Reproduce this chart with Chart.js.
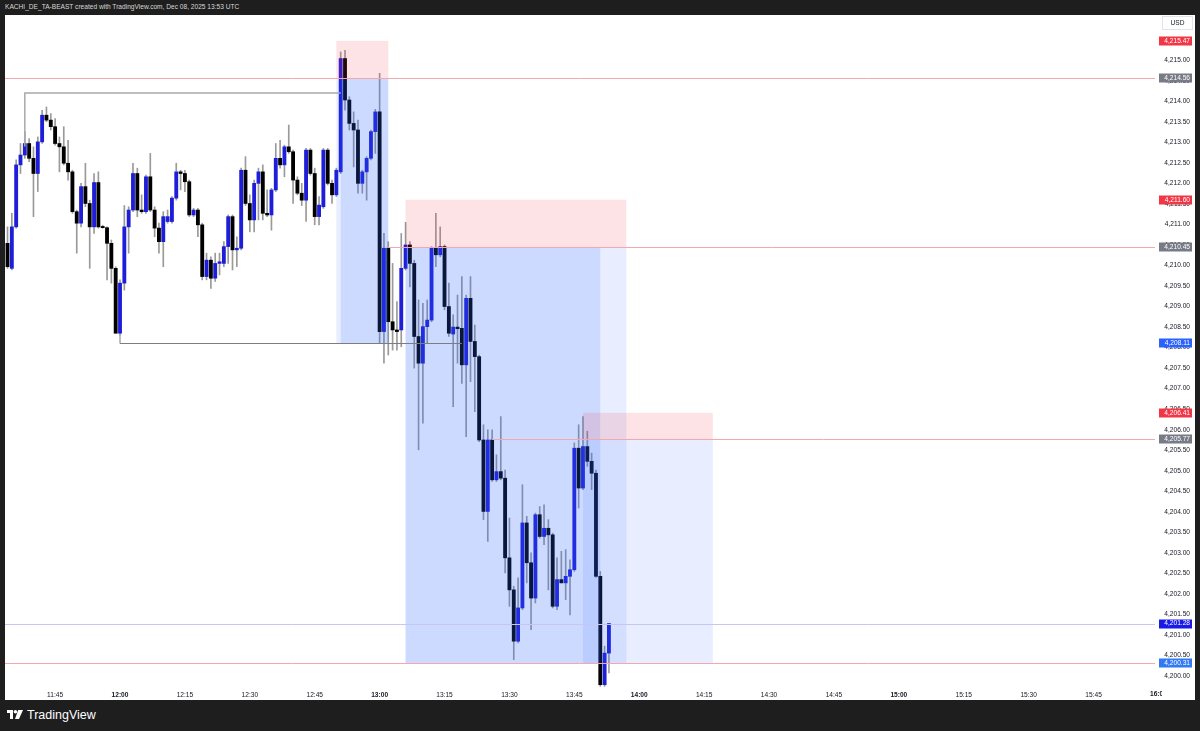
<!DOCTYPE html>
<html>
<head>
<meta charset="utf-8">
<script src="https://cdn.jsdelivr.net/npm/chart.js@4.4.1/dist/chart.umd.min.js"></script>
<style>
  html, body { margin: 0; padding: 0; width: 1200px; height: 731px; overflow: hidden; background: #1e1e1e; font-family: "Liberation Sans", Arial, sans-serif; }
  #head { position: absolute; left: 5px; top: 3px; font-size: 6.6px; color: #d8d8d8; white-space: nowrap; }
  #panel { position: absolute; left: 5px; top: 15px; width: 1190px; height: 685px; background: #fff; }
  #foot { position: absolute; left: 7px; top: 708px; display: flex; align-items: center; color: #fff; font-size: 12.5px; font-weight: 500; }
  #foot svg { margin-right: 4px; }
</style>
</head>
<body>
<div id="head">KACHI_DE_TA-BEAST created with TradingView.com, Dec 08, 2025 13:53 UTC</div>
<div id="panel"><canvas id="chart" width="1190" height="685"></canvas></div>
<div id="foot">
  <svg width="16" height="10" viewBox="0 0 16 10"><path d="M0 0h6v9H3V3H0z" fill="#fff"/><circle cx="8.4" cy="1.8" r="1.8" fill="#fff"/><path d="M11.2 0H16l-4 9H8z" fill="#fff"/></svg>
  <span>TradingView</span>
</div>
<script>
// 1-minute candles, first bar at 11:34 (minutes since midnight)
const firstBar = 694;

const opens = [
  4210.54, 4209.93, 4210.94, 4212.45, 4212.69, 4212.97, 4212.61, 4212.24, 4213.01, 4213.66,
  4213.54, 4213.38, 4212.97, 4212.89, 4212.49, 4212.28, 4211.31, 4211.03, 4211.92, 4211.51,
  4210.94, 4212.02, 4210.95, 4210.92, 4210.54, 4209.93, 4208.35, 4209.57, 4210.94, 4211.35,
  4212.24, 4211.35, 4211.31, 4212.16, 4211.35, 4210.91, 4210.58, 4211.07, 4211.07, 4211.64,
  4212.28, 4212.24, 4212.04, 4211.23, 4211.35, 4210.99, 4209.73, 4210.13, 4209.69, 4210.05,
  4210.05, 4210.46, 4211.19, 4210.38, 4210.42, 4212.32, 4211.51, 4211.11, 4212.00, 4212.28,
  4211.27, 4211.23, 4211.84, 4212.61, 4212.45, 4212.89, 4212.77, 4212.08, 4211.76, 4211.59,
  4212.81, 4212.24, 4211.19, 4211.43, 4212.81, 4212.00, 4211.72, 4212.28, 4215.04, 4214.03,
  4213.46, 4213.30, 4212.00, 4212.28, 4212.61, 4213.26, 4213.74, 4208.39, 4210.42, 4208.63,
  4208.43, 4208.43, 4209.93, 4210.50, 4210.05, 4208.27, 4207.62, 4208.51, 4208.67, 4210.42,
  4210.26, 4210.46, 4209.00, 4208.33, 4208.50, 4208.47, 4207.58, 4209.20, 4208.15, 4207.78,
  4205.75, 4204.01, 4205.75, 4204.78, 4204.98, 4204.82, 4202.88, 4202.10, 4200.85, 4201.66,
  4203.73, 4202.76, 4201.90, 4203.93, 4203.40, 4203.60, 4203.44, 4201.70, 4202.35, 4202.27,
  4202.43, 4202.59, 4205.55, 4204.58, 4205.59, 4205.23, 4204.94, 4202.43, 4199.79, 4200.56
];
const highs = [
  4210.94, 4211.27, 4212.57, 4212.97, 4213.26, 4213.09, 4212.89, 4213.13, 4213.78, 4213.86,
  4213.70, 4213.58, 4213.13, 4213.38, 4213.05, 4212.32, 4211.35, 4212.00, 4212.49, 4211.59,
  4212.24, 4212.28, 4210.98, 4210.94, 4210.62, 4209.97, 4209.65, 4211.46, 4211.43, 4212.49,
  4212.37, 4211.72, 4212.20, 4212.73, 4211.43, 4211.03, 4211.31, 4211.35, 4211.68, 4212.49,
  4212.32, 4212.32, 4212.08, 4211.39, 4211.39, 4211.03, 4210.30, 4210.21, 4210.30, 4210.30,
  4210.58, 4211.23, 4211.23, 4210.70, 4212.37, 4212.65, 4211.72, 4212.08, 4212.37, 4212.45,
  4211.84, 4211.88, 4212.97, 4213.05, 4212.93, 4213.42, 4212.81, 4212.16, 4212.00, 4212.85,
  4212.85, 4212.37, 4211.68, 4212.85, 4212.85, 4212.08, 4212.37, 4215.20, 4215.24, 4214.11,
  4213.74, 4213.54, 4212.32, 4212.65, 4213.30, 4213.80, 4214.68, 4210.78, 4210.58, 4210.05,
  4209.12, 4210.78, 4211.05, 4210.58, 4210.13, 4209.16, 4209.08, 4209.16, 4210.46, 4211.27,
  4210.94, 4210.50, 4209.57, 4208.80, 4209.28, 4209.73, 4209.28, 4209.73, 4208.55, 4207.82,
  4206.12, 4206.00, 4206.00, 4205.39, 4206.32, 4205.02, 4203.85, 4202.19, 4202.39, 4204.66,
  4203.89, 4203.00, 4203.97, 4204.13, 4204.17, 4203.81, 4203.48, 4202.88, 4203.04, 4203.08,
  4202.83, 4205.68, 4206.12, 4206.32, 4205.96, 4205.43, 4205.02, 4202.55, 4200.73, 4201.28
];
const lows = [
  4209.93, 4209.89, 4210.91, 4212.24, 4212.61, 4212.53, 4211.19, 4211.80, 4212.97, 4213.50,
  4213.30, 4212.93, 4212.28, 4212.45, 4212.08, 4211.27, 4210.30, 4210.94, 4211.43, 4209.93,
  4210.78, 4210.91, 4210.91, 4209.65, 4209.57, 4208.35, 4208.31, 4209.40, 4210.30, 4211.31,
  4211.19, 4211.27, 4211.27, 4211.31, 4210.70, 4210.30, 4209.97, 4211.03, 4211.03, 4211.59,
  4211.84, 4211.80, 4211.19, 4211.19, 4210.70, 4209.65, 4209.65, 4209.44, 4209.61, 4209.77,
  4209.97, 4210.05, 4209.89, 4209.97, 4210.38, 4211.46, 4210.82, 4210.82, 4211.11, 4211.11,
  4211.19, 4210.86, 4211.80, 4212.37, 4212.16, 4212.73, 4211.51, 4211.72, 4211.46, 4211.07,
  4212.20, 4210.99, 4210.99, 4211.39, 4211.96, 4211.51, 4211.68, 4212.24, 4213.78, 4213.30,
  4212.40, 4211.76, 4211.76, 4211.59, 4212.57, 4212.73, 4208.11, 4207.62, 4207.82, 4207.94,
  4207.94, 4208.02, 4209.89, 4209.48, 4207.50, 4205.51, 4206.16, 4208.11, 4208.63, 4209.97,
  4210.21, 4208.92, 4208.27, 4206.56, 4207.62, 4207.13, 4205.83, 4207.17, 4206.44, 4205.71,
  4203.81, 4203.28, 4204.74, 4204.74, 4204.78, 4202.51, 4201.70, 4200.40, 4200.81, 4201.62,
  4202.27, 4201.13, 4201.78, 4203.36, 4203.20, 4202.10, 4201.66, 4201.62, 4202.27, 4201.86,
  4201.49, 4202.55, 4204.09, 4204.54, 4205.11, 4204.54, 4202.40, 4199.75, 4199.75, 4200.08
];
const closes = [
  4209.97, 4210.94, 4212.45, 4212.69, 4212.97, 4212.61, 4212.24, 4213.01, 4213.66, 4213.54,
  4213.38, 4212.97, 4212.89, 4212.49, 4212.28, 4211.31, 4211.03, 4211.92, 4211.51, 4210.94,
  4212.02, 4210.94, 4210.92, 4210.54, 4209.93, 4208.35, 4209.57, 4210.94, 4211.35, 4212.24,
  4211.35, 4211.31, 4212.16, 4211.35, 4210.91, 4210.58, 4211.19, 4211.19, 4211.64, 4212.28,
  4212.24, 4212.04, 4211.23, 4211.35, 4210.99, 4209.73, 4210.13, 4209.69, 4210.05, 4210.09,
  4210.46, 4211.19, 4210.38, 4210.42, 4212.32, 4211.51, 4211.11, 4212.00, 4212.28, 4211.27,
  4211.23, 4211.84, 4212.61, 4212.45, 4212.89, 4212.77, 4212.08, 4211.76, 4211.59, 4212.81,
  4212.24, 4211.19, 4211.47, 4212.81, 4212.00, 4211.72, 4212.32, 4215.04, 4214.03, 4213.46,
  4213.30, 4212.00, 4212.28, 4212.61, 4213.26, 4213.74, 4208.39, 4210.42, 4208.63, 4208.43,
  4208.39, 4209.93, 4210.50, 4210.05, 4208.27, 4207.62, 4208.51, 4208.67, 4210.42, 4210.26,
  4210.46, 4209.00, 4208.35, 4208.50, 4208.46, 4207.58, 4209.20, 4208.15, 4207.78, 4205.75,
  4204.01, 4205.75, 4204.78, 4204.98, 4204.82, 4202.88, 4202.10, 4200.85, 4201.66, 4203.73,
  4202.76, 4201.90, 4203.93, 4203.40, 4203.60, 4203.44, 4201.70, 4202.35, 4202.27, 4202.43,
  4202.59, 4205.55, 4204.58, 4205.59, 4205.23, 4204.94, 4202.43, 4199.79, 4200.56, 4201.28
];

// short position tools (times in minutes since midnight)
const boxStart = [770, 786, 827];
const boxEnd = [782, 837, 857];
const boxStop = [4215.47, 4211.60, 4206.41];
const boxEntry = [4214.56, 4210.45, 4205.77];
const boxTarget = [4208.11, 4200.31, 4200.31];
const boxDoneStart = [771, 786, 827];
const boxDoneEnd = [782, 831, 827];

// horizontal rays
const rayPrices = [4214.56, 4210.45, 4205.77, 4200.31, 4201.28];
const rayStart = [690, 782, 806, 690, 690];
const rayColors = ["#f4a7ae", "#f4a7ae", "#f4a7ae", "#f4a7ae", "#c6c6f0"];

// range outline
const rangeTop = { price: 4214.20, from: 698, to: 771, drop: 4212.90 };
const rangeLow = { price: 4208.11, from: 720, to: 799, rise: 4208.31 };

// price axis tags
const tagPrices = [4215.47, 4214.56, 4211.60, 4210.45, 4208.11, 4206.41, 4205.77, 4201.28, 4200.31];
const tagColors = ["#f23645", "#787b86", "#f23645", "#787b86", "#2962ff", "#f23645", "#787b86", "#1a1ae6", "#3179f5"];

const xMin = 693.42, xMax = 959.2;
const yMin = 4199.71, yMax = 4216.10;

const fmtPrice = v => Number(v).toLocaleString("en-US", { minimumFractionDigits: 2, maximumFractionDigits: 2 });
const fmtTime = v => Math.floor(v / 60) + ":" + String(Math.round(v % 60)).padStart(2, "0");

const times = opens.map((_, i) => firstBar + i);
const bodyColors = opens.map((o, i) => (closes[i] >= o ? "#1e1ed8" : "#000000"));

const drawings = {
  id: "drawings",
  afterDatasetsDraw(chart) {
    const { ctx, chartArea: a, scales: { x, y } } = chart;
    ctx.save();
    ctx.beginPath();
    ctx.rect(a.left, a.top, a.right - a.left, a.bottom - a.top);
    ctx.clip();

    // position boxes
    boxStart.forEach((t0, k) => {
      const x0 = x.getPixelForValue(t0);
      const x1 = x.getPixelForValue(boxEnd[k]);
      const yS = y.getPixelForValue(boxStop[k]);
      const yE = y.getPixelForValue(boxEntry[k]);
      const yT = y.getPixelForValue(boxTarget[k]);
      ctx.fillStyle = "rgba(242,54,69,0.14)";
      ctx.fillRect(x0, yS, x1 - x0, yE - yS);
      ctx.fillStyle = "rgba(41,98,255,0.11)";
      ctx.fillRect(x0, yE, x1 - x0, yT - yE);
      const d0 = x.getPixelForValue(boxDoneStart[k]);
      const d1 = x.getPixelForValue(boxDoneEnd[k]);
      if (d1 > d0) {
        ctx.fillStyle = "rgba(41,98,255,0.14)";
        ctx.fillRect(d0, yE, d1 - d0, yT - yE);
      }
    });

    // rays
    rayPrices.forEach((p, k) => {
      const yy = Math.round(y.getPixelForValue(p)) + 0.5;
      ctx.strokeStyle = rayColors[k];
      ctx.lineWidth = 1;
      ctx.beginPath();
      ctx.moveTo(x.getPixelForValue(rayStart[k]), yy);
      ctx.lineTo(a.right, yy);
      ctx.stroke();
    });

    // range outline
    ctx.strokeStyle = "#a9a9a9";
    ctx.lineWidth = 1.5;
    ctx.beginPath();
    ctx.moveTo(x.getPixelForValue(rangeTop.from), y.getPixelForValue(rangeTop.drop));
    ctx.lineTo(x.getPixelForValue(rangeTop.from), y.getPixelForValue(rangeTop.price));
    ctx.lineTo(x.getPixelForValue(rangeTop.to), y.getPixelForValue(rangeTop.price));
    ctx.stroke();
    ctx.strokeStyle = "#7d7d7d";
    ctx.lineWidth = 1;
    ctx.beginPath();
    ctx.moveTo(x.getPixelForValue(rangeLow.from), y.getPixelForValue(rangeLow.rise));
    ctx.lineTo(x.getPixelForValue(rangeLow.from), Math.round(y.getPixelForValue(rangeLow.price)) + 0.5);
    ctx.lineTo(x.getPixelForValue(rangeLow.to), Math.round(y.getPixelForValue(rangeLow.price)) + 0.5);
    ctx.stroke();
    ctx.restore();
  },
  afterDraw(chart) {
    const { ctx, chartArea: a, scales: { x, y } } = chart;
    const axisRight = y.right;
    ctx.save();
    ctx.font = "6.6px 'Liberation Sans', Arial, sans-serif";

    // price tags
    tagPrices.forEach((p, k) => {
      const yy = y.getPixelForValue(p);
      ctx.fillStyle = tagColors[k];
      ctx.fillRect(axisRight - 31, Math.round(yy) - 4.5, 33, 9);
      ctx.fillStyle = "#ffffff";
      ctx.textAlign = "right";
      ctx.textBaseline = "middle";
      ctx.fillText(fmtPrice(p), axisRight, yy);
    });

    // currency box
    ctx.strokeStyle = "#e0e3eb";
    ctx.lineWidth = 1;
    ctx.strokeRect(axisRight - 27.5, 1.5, 30, 13);
    ctx.fillStyle = "#131722";
    ctx.textAlign = "center";
    ctx.textBaseline = "middle";
    ctx.fillText("USD", axisRight - 12.5, 8.5);

    // clipped 16:00 label at the right end of the time axis
    ctx.beginPath();
    ctx.rect(a.left, a.bottom, a.right + 7 - a.left, 12);
    ctx.clip();
    ctx.font = "bold 6.6px 'Liberation Sans', Arial, sans-serif";
    ctx.textBaseline = "top";
    ctx.fillText(fmtTime(960), x.getPixelForValue(960), a.bottom + 3);
    ctx.restore();
  }
};

new Chart(document.getElementById("chart"), {
  type: "bar",
  data: {
    datasets: [
      {
        label: "wicks",
        data: times.map((t, i) => ({ x: t, y: [lows[i], highs[i]] })),
        backgroundColor: "#9a9a9a",
        barThickness: 1,
        grouped: false,
        order: 2
      },
      {
        label: "bodies",
        data: times.map((t, i) => ({ x: t, y: [opens[i], closes[i]] })),
        backgroundColor: bodyColors,
        barThickness: 3.2,
        minBarLength: 1,
        grouped: false,
        order: 1
      }
    ]
  },
  options: {
    responsive: false,
    animation: false,
    layout: { padding: { left: 0, right: 5, top: 0, bottom: 0 } },
    plugins: { legend: { display: false }, tooltip: { enabled: false } },
    scales: {
      x: {
        type: "linear",
        min: xMin,
        max: xMax,
        offset: false,
        grid: { display: false, drawTicks: false },
        border: { display: false },
        ticks: {
          stepSize: 15,
          includeBounds: false,
          autoSkip: false,
          maxRotation: 0,
          padding: 3,
          color: "#131722",
          font: c => ({ size: 6.6, weight: c.tick && c.tick.value % 60 === 0 ? "bold" : "normal" }),
          callback: v => fmtTime(v)
        },
        afterFit: s => { s.height = 12; s.paddingLeft = 0; s.paddingRight = 0; }
      },
      y: {
        position: "right",
        min: yMin,
        max: yMax,
        grid: { display: false, drawTicks: false },
        border: { display: false },
        ticks: {
          stepSize: 0.5,
          includeBounds: false,
          autoSkip: false,
          crossAlign: "far",
          padding: 0,
          color: "#131722",
          font: { size: 6.6 },
          callback: v => fmtPrice(v)
        },
        afterBuildTicks: s => { s.ticks = s.ticks.filter(t => t.value <= 4215.01); },
        afterFit: s => { s.width = 35; s.paddingTop = 0; s.paddingBottom = 0; }
      }
    }
  },
  plugins: [drawings]
});
</script>
</body>
</html>
